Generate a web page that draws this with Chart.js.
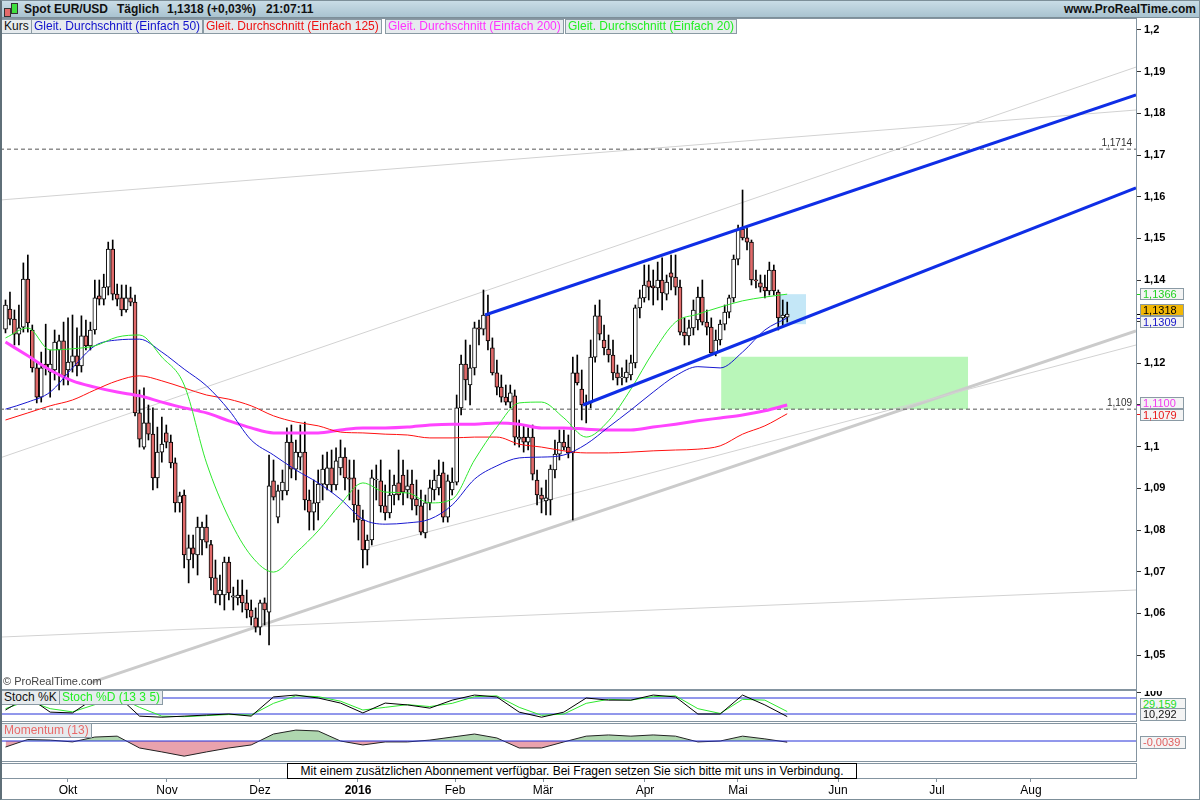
<!DOCTYPE html>
<html>
<head>
<meta charset="utf-8">
<script src="https://cdn.jsdelivr.net/npm/chart.js@4.4.1/dist/chart.umd.min.js"></script>
<style>
body{margin:0;width:1200px;height:800px;position:relative;background:#fff;overflow:hidden;font-family:"Liberation Sans",Arial,sans-serif}
.abs{position:absolute}
canvas{position:absolute;left:0}
#title{left:0;top:0;width:1200px;height:18px;background:linear-gradient(#cbdee8,#a9c3d0);border-bottom:1px solid #7d8f99;box-sizing:border-box}
#title span{position:absolute;top:2px;font-weight:bold;font-size:12px;color:#111}
.ic{position:absolute;border:1px solid #333}
.lg{position:absolute;height:13px;line-height:13px;font-size:12px;background:#e6ebee;border:1px solid #8a9aa4;padding:0 2px;white-space:nowrap;z-index:3}
.panel{position:absolute;left:0;width:1137px;border:1px solid #8494a0;box-sizing:border-box;pointer-events:none;z-index:2}
.tag{position:absolute;left:1140px;width:42px;height:11px;line-height:11px;font-size:11px;background:#f4f4f4;border:1px solid #8a9aa4;padding-left:2px;z-index:3}
#msg{position:absolute;left:287px;top:763px;width:570px;height:16px;border:1px solid #000;box-sizing:border-box;background:#fff;font-size:12px;line-height:14px;text-align:center;z-index:3}
#frame{position:absolute;left:0;top:0;width:1200px;height:800px;box-sizing:border-box;border:1px solid #7d8f99;border-left:2px solid #5f6f78;pointer-events:none;z-index:5}
</style>
</head>
<body>
<div id="title" class="abs">
  <div class="ic" style="left:4px;top:8px;width:5px;height:7px;background:#e46a6a"></div>
  <div class="ic" style="left:11px;top:3px;width:5px;height:9px;background:#3ee03e"></div>
  <span style="left:24px">Spot EUR/USD</span>
  <span style="left:117px">Täglich</span>
  <span style="left:167px">1,1318 (+0,03%)</span>
  <span style="left:266px">21:07:11</span>
  <span style="right:4px">www.ProRealTime.com</span>
</div>

<div class="lg" style="left:1px;top:19px;color:#111">Kurs</div>
<div class="lg" style="left:31px;top:19px;color:#1111cc">Gleit. Durchschnitt (Einfach 50)</div>
<div class="lg" style="left:203px;top:19px;color:#ee1111">Gleit. Durchschnitt (Einfach 125)</div>
<div class="lg" style="left:385px;top:19px;color:#ff33ff">Gleit. Durchschnitt (Einfach 200)</div>
<div class="lg" style="left:565px;top:19px;color:#22ee22">Gleit. Durchschnitt (Einfach 20)</div>

<canvas id="main" width="1200" height="671" style="top:18px"></canvas>
<canvas id="stoch" width="1200" height="30" style="top:691px"></canvas>
<canvas id="mom" width="1200" height="37" style="top:724px"></canvas>
<canvas id="axis" width="1200" height="37" style="top:763px"></canvas>

<div class="panel" style="top:18px;height:672px"></div>
<div class="panel" style="top:690px;height:32px"></div>
<div class="panel" style="top:723px;height:39px"></div>
<div class="panel" style="top:763px;height:16px"></div>

<div class="lg" style="left:1px;top:690px;color:#111">Stoch %K</div>
<div class="lg" style="left:59px;top:690px;color:#22ee22">Stoch %D (13 3 5)</div>
<div class="lg" style="left:1px;top:723px;color:#e86a6a">Momentum (13)</div>
<div class="tag" id="tagD" style="top:698px;color:#22dd22"></div>
<div class="tag" id="tagK" style="top:708px;color:#111"></div>
<div class="tag" id="tagM" style="top:736px;color:#e06060"></div>
<div id="msg">Mit einem zusätzlichen Abonnement verfügbar. Bei Fragen setzen Sie sich bitte mit uns in Verbindung.</div>
<div id="frame"></div>

<script>
// daily EUR/USD candles, one per trading day (index 0 = 11 Sep 2015, last = 17 May 2016)
const open = [1.1282,1.1330,1.1306,1.1270,1.1287,1.1402,1.1280,1.1189,1.1119,1.1198,1.1179,1.1184,1.1232,1.1254,1.1184,1.1203,1.1218,1.1194,1.1266,1.1242,
  1.1280,1.1362,1.1354,1.1383,1.1474,1.1366,1.1357,1.1328,1.1357,1.1347,1.1081,1.0999,1.1057,1.1030,1.0925,1.0987,1.1033,1.1011,1.0961,1.0865,
  1.0884,1.0728,1.0757,1.0740,1.0776,1.0807,1.0765,1.0685,1.0644,1.0644,1.0723,1.0639,1.0637,1.0644,1.0625,1.0608,1.0589,1.0567,1.0625,1.0603,
  1.0918,1.0831,1.0894,1.0894,1.1011,1.0946,1.0975,1.0987,1.0872,1.0843,1.0865,1.0910,1.0908,1.0949,1.0908,1.0949,1.0975,1.0925,1.0925,1.0860,
  1.0824,1.0752,1.0776,1.0920,1.0918,1.0858,1.0841,1.0884,1.0913,1.0932,1.0896,1.0910,1.0874,1.0858,1.0793,1.0865,1.0896,1.0901,1.0937,1.0831,
  1.0896,1.0915,1.1093,1.1198,1.1148,1.1189,1.1285,1.1282,1.1316,1.1237,1.1177,1.1143,1.1119,1.1107,1.1122,1.1018,1.1023,1.1011,1.1023,1.0920,
  1.0884,1.0870,1.0872,1.0944,1.0982,1.1011,1.0999,1.0985,1.1177,1.1138,1.1100,1.1105,1.1215,1.1314,1.1256,1.1234,1.1220,1.1177,1.1165,1.1165,
  1.1172,1.1201,1.1333,1.1357,1.1398,1.1386,1.1381,1.1400,1.1366,1.1417,1.1407,1.1383,1.1275,1.1266,1.1285,1.1304,1.1359,1.1299,1.1287,1.1225,
  1.1256,1.1294,1.1323,1.1357,1.1450,1.1522,1.1501,1.1491,1.1400,1.1393,1.1383,1.1374,1.1424,1.1371,1.1309,1.1311];
const high = [1.1352,1.1371,1.1328,1.1340,1.1441,1.1460,1.1292,1.1203,1.1227,1.1294,1.1232,1.1280,1.1268,1.1299,1.1309,1.1316,1.1285,1.1314,1.1304,1.1299,
  1.1400,1.1400,1.1414,1.1491,1.1496,1.1390,1.1388,1.1388,1.1383,1.1364,1.1136,1.1141,1.1100,1.1093,1.1047,1.1071,1.1052,1.1028,1.0973,1.0891,
  1.0896,1.0788,1.0788,1.0831,1.0819,1.0836,1.0775,1.0728,1.0692,1.0735,1.0735,1.0663,1.0680,1.0680,1.0656,1.0632,1.0613,1.0632,1.0637,1.0980,
  1.0968,1.0908,1.0944,1.1045,1.1052,1.1016,1.1052,1.1059,1.0896,1.0920,1.0944,1.0980,1.0987,1.0992,1.0997,1.1016,1.0997,1.0968,1.0968,1.0896,
  1.0848,1.0788,1.0944,1.0956,1.0968,1.0908,1.0944,1.0932,1.0992,1.0968,1.0944,1.0944,1.0920,1.0896,1.0884,1.0920,1.0944,1.0968,1.0963,1.0932,
  1.0949,1.1124,1.1220,1.1256,1.1244,1.1299,1.1304,1.1376,1.1364,1.1261,1.1208,1.1172,1.1148,1.1148,1.1136,1.1064,1.1052,1.1045,1.1052,1.0944,
  1.0901,1.0920,1.0956,1.1016,1.1040,1.1040,1.1028,1.1215,1.1220,1.1184,1.1124,1.1256,1.1340,1.1352,1.1292,1.1268,1.1256,1.1196,1.1189,1.1208,
  1.1220,1.1340,1.1376,1.1436,1.1436,1.1424,1.1443,1.1453,1.1412,1.1460,1.1460,1.1400,1.1309,1.1304,1.1352,1.1383,1.1400,1.1328,1.1309,1.1280,
  1.1304,1.1340,1.1364,1.1460,1.1532,1.1616,1.1525,1.1496,1.1424,1.1412,1.1412,1.1443,1.1436,1.1376,1.1352,1.1347];
const low = [1.1273,1.1292,1.1244,1.1244,1.1275,1.1275,1.1179,1.1105,1.1107,1.1172,1.1119,1.1160,1.1136,1.1148,1.1148,1.1179,1.1170,1.1179,1.1232,1.1232,
  1.1270,1.1340,1.1340,1.1364,1.1352,1.1338,1.1314,1.1323,1.1338,1.1074,1.0999,1.0994,1.1016,1.0896,1.0901,1.0963,1.0997,1.0949,1.0843,1.0843,
  1.0709,1.0673,1.0709,1.0692,1.0740,1.0757,1.0656,1.0625,1.0620,1.0608,1.0632,1.0608,1.0620,1.0603,1.0589,1.0572,1.0555,1.0548,1.0572,1.0524,
  1.0872,1.0817,1.0872,1.0884,1.0925,1.0920,1.0944,1.0848,1.0800,1.0800,1.0824,1.0872,1.0896,1.0891,1.0896,1.0932,1.0896,1.0872,1.0819,1.0776,
  1.0709,1.0716,1.0764,1.0872,1.0843,1.0824,1.0829,1.0860,1.0872,1.0860,1.0877,1.0848,1.0836,1.0788,1.0781,1.0848,1.0872,1.0884,1.0819,1.0819,
  1.0884,1.0908,1.1076,1.1112,1.1100,1.1172,1.1244,1.1268,1.1232,1.1172,1.1124,1.1107,1.1100,1.1093,1.1004,1.0999,1.0987,1.0992,1.0920,1.0860,
  1.0841,1.0836,1.0836,1.0925,1.0968,1.0992,1.0973,1.0824,1.1148,1.1064,1.1057,1.1093,1.1203,1.1256,1.1220,1.1203,1.1160,1.1148,1.1148,1.1155,
  1.1160,1.1189,1.1309,1.1347,1.1352,1.1340,1.1352,1.1328,1.1352,1.1376,1.1364,1.1268,1.1244,1.1244,1.1268,1.1280,1.1292,1.1268,1.1220,1.1218,
  1.1244,1.1280,1.1309,1.1347,1.1436,1.1496,1.1472,1.1388,1.1381,1.1371,1.1357,1.1364,1.1364,1.1280,1.1290,1.1299];
const close = [1.1340,1.1306,1.1270,1.1285,1.1402,1.1297,1.1189,1.1119,1.1189,1.1189,1.1198,1.1251,1.1254,1.1170,1.1203,1.1218,1.1194,1.1266,1.1242,1.1280,
  1.1357,1.1354,1.1383,1.1474,1.1366,1.1354,1.1328,1.1357,1.1347,1.1081,1.1018,1.1057,1.1030,1.0925,1.0987,1.1006,1.1011,1.0961,1.0865,1.0882,
  1.0740,1.0757,1.0742,1.0807,1.0807,1.0771,1.0685,1.0644,1.0656,1.0723,1.0649,1.0642,1.0644,1.0625,1.0608,1.0591,1.0567,1.0625,1.0608,1.0906,
  1.0879,1.0894,1.0915,1.1011,1.0946,1.0987,1.0987,1.0872,1.0843,1.0865,1.0910,1.0946,1.0949,1.0908,1.0966,1.0975,1.0925,1.0922,1.0860,1.0824,
  1.0752,1.0776,1.0925,1.0922,1.0858,1.0841,1.0884,1.0908,1.0884,1.0891,1.0906,1.0874,1.0858,1.0795,1.0865,1.0901,1.0920,1.0932,1.0831,1.0918,
  1.0915,1.1093,1.1198,1.1160,1.1189,1.1285,1.1282,1.1316,1.1254,1.1177,1.1143,1.1119,1.1107,1.1129,1.1023,1.1023,1.1011,1.1023,1.0934,1.0884,
  1.0874,1.0877,1.0946,1.0982,1.1011,1.0999,1.0985,1.1177,1.1153,1.1100,1.1105,1.1215,1.1314,1.1270,1.1237,1.1220,1.1177,1.1165,1.1167,1.1179,
  1.1201,1.1333,1.1357,1.1388,1.1383,1.1381,1.1400,1.1369,1.1395,1.1407,1.1383,1.1275,1.1266,1.1285,1.1328,1.1359,1.1299,1.1287,1.1225,1.1256,
  1.1294,1.1323,1.1357,1.1450,1.1522,1.1501,1.1491,1.1400,1.1398,1.1383,1.1374,1.1424,1.1374,1.1309,1.1316,1.1318];

// indicator readings, taken every 5th trading day
const maIdx = [0,5,10,15,20,25,30,35,40,45,50,55,60,65,70,75,80,85,90,95,100,105,110,115,120,125,130,135,140,145,150,155,160,165,170,175];
const ma20 = [1.1261,1.1285,1.1232,1.1235,1.1242,1.1263,1.1268,1.1215,1.1148,1.0961,1.0829,1.0738,1.0699,1.0745,1.0798,1.0862,1.0913,1.0891,
  1.0889,1.0865,1.0874,1.0968,1.1047,1.1105,1.1107,1.1069,1.1023,1.1062,1.1138,1.1227,1.1299,1.1318,1.1335,1.1350,1.1359,1.1366];
const ma50 = [1.1090,1.1107,1.1131,1.1189,1.1242,1.1256,1.1258,1.1227,1.1186,1.1146,1.1088,1.1016,1.0980,1.0944,1.0913,1.0874,1.0826,1.0814,
  1.0817,1.0826,1.0860,1.0922,1.0954,1.0973,1.0975,1.0980,1.1006,1.1047,1.1088,1.1131,1.1170,1.1192,1.1189,1.1227,1.1280,1.1309];
const ma125 = [1.1064,1.1081,1.1098,1.1112,1.1136,1.1158,1.1170,1.1158,1.1141,1.1124,1.1114,1.1098,1.1074,1.1059,1.1050,1.1035,1.1033,1.1030,
  1.1028,1.1021,1.1021,1.1023,1.1023,1.1006,1.0999,1.0990,1.0985,1.0985,1.0987,1.0990,1.0992,1.0994,1.1002,1.1030,1.1050,1.1079];
const ma200 = [1.1251,1.1218,1.1184,1.1158,1.1143,1.1131,1.1122,1.1107,1.1093,1.1081,1.1062,1.1045,1.1033,1.1033,1.1033,1.1040,1.1045,1.1045,
  1.1047,1.1052,1.1054,1.1054,1.1057,1.1054,1.1045,1.1045,1.1042,1.1040,1.1040,1.1047,1.1054,1.1062,1.1069,1.1076,1.1086,1.1100];
const stochK = [35,85,27,24,80,90,12,8,12,16,20,12,84,91,80,61,24,61,54,42,72,91,84,27,8,27,80,72,72,91,84,20,20,91,54,10.292];
const stochD = [40,70,40,28,55,85,45,12,10,14,18,16,60,88,85,68,35,45,55,48,60,85,88,45,15,20,60,75,72,85,88,40,22,75,72,29.159];
const momentum = [-0.020,0.005,0.003,-0.003,0.013,0.016,-0.023,-0.036,-0.050,-0.036,-0.023,-0.013,0.023,0.036,0.033,0.000,-0.013,-0.003,
  -0.003,0.003,0.013,0.023,0.010,-0.023,-0.023,-0.003,0.016,0.020,0.016,0.020,0.016,-0.003,0.000,0.016,0.007,-0.0039];

// drawn objects: [index, price] end points
const channelTop = [[107.35,1.1316],[253.08,1.1844]];
const channelLow = [[129.28,1.1100],[253.08,1.1621]];
const grayThin = [
  [[-1.23,1.0973],[253.08,1.1911]],
  [[-1.23,1.1592],[253.08,1.1808]],
  [[80.93,1.0757],[253.08,1.1244]],
  [[-1.23,1.0543],[253.08,1.0656]]
];
const grayThick = [[18.92,1.0433],[253.08,1.1278]];
const levels = [1.1714, 1.109];
const zoneGreen = {from: 160.2, to: 215.5, top: 1.1216, bottom: 1.1090};
const zoneBlue = {from: 172.7, to: 179.2, top: 1.1366, bottom: 1.1294};

// time axis
const monthPos = [13.99,36.15,56.97,78.91,100.63,120.33,143.16,163.98,186.37,208.53,229.57];
const monthLabels = ['Okt','Nov','Dez','2016','Feb','Mär','Apr','Mai','Jun','Jul','Aug'];

const XMIN = -1.23, XMAX = 253.08;
const YMIN = 1.04184, YMAX = 1.20288;
const FONT = '"Liberation Sans", Arial, sans-serif';
const AXIS_W = 64;

const de = (v, d) => v.toFixed(d).replace('.', ',');
const pts = arr => arr.map(p => ({x: p[0], y: p[1]}));
const series = vals => vals.map((v, k) => ({x: maIdx[k], y: v}));
const seg = (data, color, width, order, dash) => ({
  type: 'line', data: pts(data), borderColor: color, borderWidth: width,
  borderDash: dash || [], pointRadius: 0, order: order, fill: false
});
const zone = (z, color) => ({
  type: 'line', data: [{x: z.from, y: z.top}, {x: z.to, y: z.top}],
  borderWidth: 0, pointRadius: 0, backgroundColor: color, fill: {value: z.bottom}, order: 12
});
const maLine = (vals, color, width, order) => ({
  type: 'line', data: series(vals), borderColor: color, borderWidth: width,
  pointRadius: 0, cubicInterpolationMode: 'monotone', order: order, fill: false
});
// keep plot areas flush with the canvas edges
const noPad = s => { s.paddingTop = 0; s.paddingBottom = 0; s.paddingLeft = 0; s.paddingRight = 0; };
const fitRight = s => { s.width = AXIS_W; noPad(s); };

Chart.defaults.font.family = FONT;
Chart.defaults.animation = false;

const bars = open.map((o, i) => i);
const wicks = bars.map(i => ({x: i, y: [low[i], high[i]]}));
const bodies = bars.map(i => ({x: i, y: [open[i], close[i]]}));
const bodyColor = bars.map(i => close[i] >= open[i] ? '#ffffff' : '#e06a6a');

// overlay texts on the price panel
const priceTags = {
  id: 'priceTags',
  afterDraw(chart) {
    const {ctx, chartArea: a, scales: {y}} = chart;
    ctx.save();
    ctx.font = '10px ' + FONT;
    ctx.fillStyle = '#333';
    ctx.textAlign = 'right';
    ctx.textBaseline = 'bottom';
    levels.forEach(v => ctx.fillText(de(v, v === 1.109 ? 3 : 4), a.right - 4, y.getPixelForValue(v) - 1));
    ctx.textAlign = 'left';
    ctx.font = '11px ' + FONT;
    ctx.fillStyle = '#444';
    ctx.fillText('© ProRealTime.com', 3, a.bottom - 2);

    const tags = [
      {v: ma20[ma20.length - 1], c: '#1fd21f', bg: '#f4f4f4'},
      {v: close[close.length - 1], c: '#000', bg: '#f2b705'},
      {v: ma50[ma50.length - 1], c: '#1515c8', bg: '#f4f4f4'},
      {v: ma200[ma200.length - 1], c: '#f03cf0', bg: '#f4f4f4'},
      {v: ma125[ma125.length - 1], c: '#e81818', bg: '#f4f4f4'}
    ].map(t => Object.assign(t, {p: y.getPixelForValue(t.v), q: y.getPixelForValue(t.v)}))
     .sort((m, n) => m.p - n.p);
    for (let it = 0; it < 12; it++) {
      for (let k = 1; k < tags.length; k++) {
        const d = tags[k].p - tags[k - 1].p;
        if (d < 12) { const s = (12 - d) / 2; tags[k].p += s; tags[k - 1].p -= s; }
      }
    }
    ctx.textBaseline = 'middle';
    tags.forEach(t => {
      ctx.strokeStyle = t.c;
      ctx.lineWidth = 1;
      ctx.beginPath(); ctx.moveTo(a.right, Math.round(t.q) + 0.5); ctx.lineTo(a.right + 4, Math.round(t.q) + 0.5); ctx.stroke();
      ctx.fillStyle = t.bg;
      ctx.fillRect(a.right + 4, Math.round(t.p - 6), 44, 12);
      ctx.strokeStyle = '#8a9aa4';
      ctx.strokeRect(a.right + 4.5, Math.round(t.p - 6) + 0.5, 43, 11);
      ctx.fillStyle = t.c;
      ctx.fillText(de(t.v, 4), a.right + 7, Math.round(t.p) + 0.5);
    });
    ctx.restore();
  }
};

new Chart(document.getElementById('main'), {
  type: 'bar',
  data: {
    datasets: [
      zone(zoneGreen, '#b9f6b9'),
      zone(zoneBlue, '#c4e7f7'),
      ...grayThin.map(g => seg(g, '#d2d2d2', 1, 11)),
      seg(grayThick, '#cbcbcb', 3, 11),
      ...levels.map(v => seg([[XMIN, v], [XMAX, v]], '#555', 1, 10, [4, 3])),
      {type: 'bar', data: wicks, backgroundColor: '#000', barThickness: 1, grouped: false, order: 8},
      {type: 'bar', data: bodies, backgroundColor: bodyColor, borderColor: '#000', borderWidth: 1,
       borderSkipped: false, barThickness: 4, minBarLength: 1, grouped: false, order: 7},
      maLine(ma200, '#ff44ff', 3, 6),
      maLine(ma125, '#ff1010', 1, 5),
      maLine(ma50, '#1818d0', 1, 4),
      maLine(ma20, '#2ee82e', 1, 3),
      seg(channelTop, '#0f2ee6', 3, 1),
      seg(channelLow, '#0f2ee6', 3, 1)
    ]
  },
  options: {
    responsive: false,
    layout: {padding: 0, autoPadding: false},
    plugins: {legend: {display: false}, tooltip: {enabled: false}},
    scales: {
      x: {type: 'linear', min: XMIN, max: XMAX, offset: false, display: false},
      y: {
        position: 'right', min: YMIN, max: YMAX, afterFit: fitRight,
        border: {color: '#8494a0'},
        grid: {drawOnChartArea: false, tickLength: 5, color: '#333'},
        ticks: {
          stepSize: 0.01, includeBounds: false, padding: 3, color: '#000',
          font: {size: 11, weight: 'bold'},
          callback: v => de(Math.round(v * 100) / 100, 2).replace(/0$/, '').replace(/,$/, '')
        }
      }
    }
  },
  plugins: [priceTags]
});

// stochastic
new Chart(document.getElementById('stoch'), {
  type: 'line',
  data: {
    datasets: [
      seg([[XMIN, 80], [XMAX, 80]], '#2430d8', 1, 3),
      seg([[XMIN, 20], [XMAX, 20]], '#2430d8', 1, 3),
      {data: series(stochD), borderColor: '#2ee82e', borderWidth: 1, pointRadius: 0, order: 2},
      {data: series(stochK), borderColor: '#000', borderWidth: 1, pointRadius: 0, order: 1}
    ]
  },
  options: {
    responsive: false,
    layout: {padding: 0, autoPadding: false},
    plugins: {legend: {display: false}, tooltip: {enabled: false}},
    scales: {
      x: {type: 'linear', min: XMIN, max: XMAX, display: false},
      y: {
        position: 'right', min: -6.25, max: 106.25, afterFit: fitRight,
        afterBuildTicks: s => { s.ticks = [{value: 100}]; },
        border: {color: '#8494a0'},
        grid: {drawOnChartArea: false, tickLength: 5, color: '#333'},
        ticks: {padding: 3, color: '#000', font: {size: 11, weight: 'bold'}, callback: v => String(v)}
      }
    }
  }
});

// momentum
new Chart(document.getElementById('mom'), {
  type: 'line',
  data: {
    datasets: [
      seg([[XMIN, 0], [XMAX, 0]], '#2430d8', 1, 1),
      {data: series(momentum), borderColor: '#222', borderWidth: 1, pointRadius: 0, order: 2,
       fill: {target: {value: 0}, above: 'rgba(110,180,110,0.55)', below: 'rgba(215,85,105,0.55)'}}
    ]
  },
  options: {
    responsive: false,
    layout: {padding: 0, autoPadding: false},
    plugins: {legend: {display: false}, tooltip: {enabled: false}},
    scales: {
      x: {type: 'linear', min: XMIN, max: XMAX, display: false},
      y: {
        position: 'right', min: -0.066, max: 0.0561, afterFit: fitRight,
        afterBuildTicks: s => { s.ticks = []; },
        border: {color: '#8494a0'}, grid: {drawOnChartArea: false}
      }
    }
  }
});

// time axis under the message strip
new Chart(document.getElementById('axis'), {
  type: 'line',
  data: {datasets: []},
  options: {
    responsive: false,
    layout: {padding: {right: AXIS_W}, autoPadding: false},
    plugins: {legend: {display: false}, tooltip: {enabled: false}},
    scales: {
      x: {
        type: 'linear', min: XMIN, max: XMAX, position: 'bottom',
        afterFit: s => { s.height = 22; noPad(s); },
        afterBuildTicks: s => { s.ticks = monthPos.map(v => ({value: v})); },
        border: {display: false},
        grid: {drawOnChartArea: false, tickLength: 4, color: '#8494a0'},
        ticks: {
          autoSkip: false, maxRotation: 0, padding: 1, color: '#000',
          font: c => ({size: 12, weight: monthLabels[c.index] === '2016' ? 'bold' : 'normal'}),
          callback: (v, i) => monthLabels[i]
        }
      },
      y: {display: false, min: 0, max: 1}
    }
  }
});

document.getElementById('tagD').textContent = de(stochD[stochD.length - 1], 3);
document.getElementById('tagK').textContent = de(stochK[stochK.length - 1], 3);
document.getElementById('tagM').textContent = de(momentum[momentum.length - 1], 4);
</script>
</body>
</html>
